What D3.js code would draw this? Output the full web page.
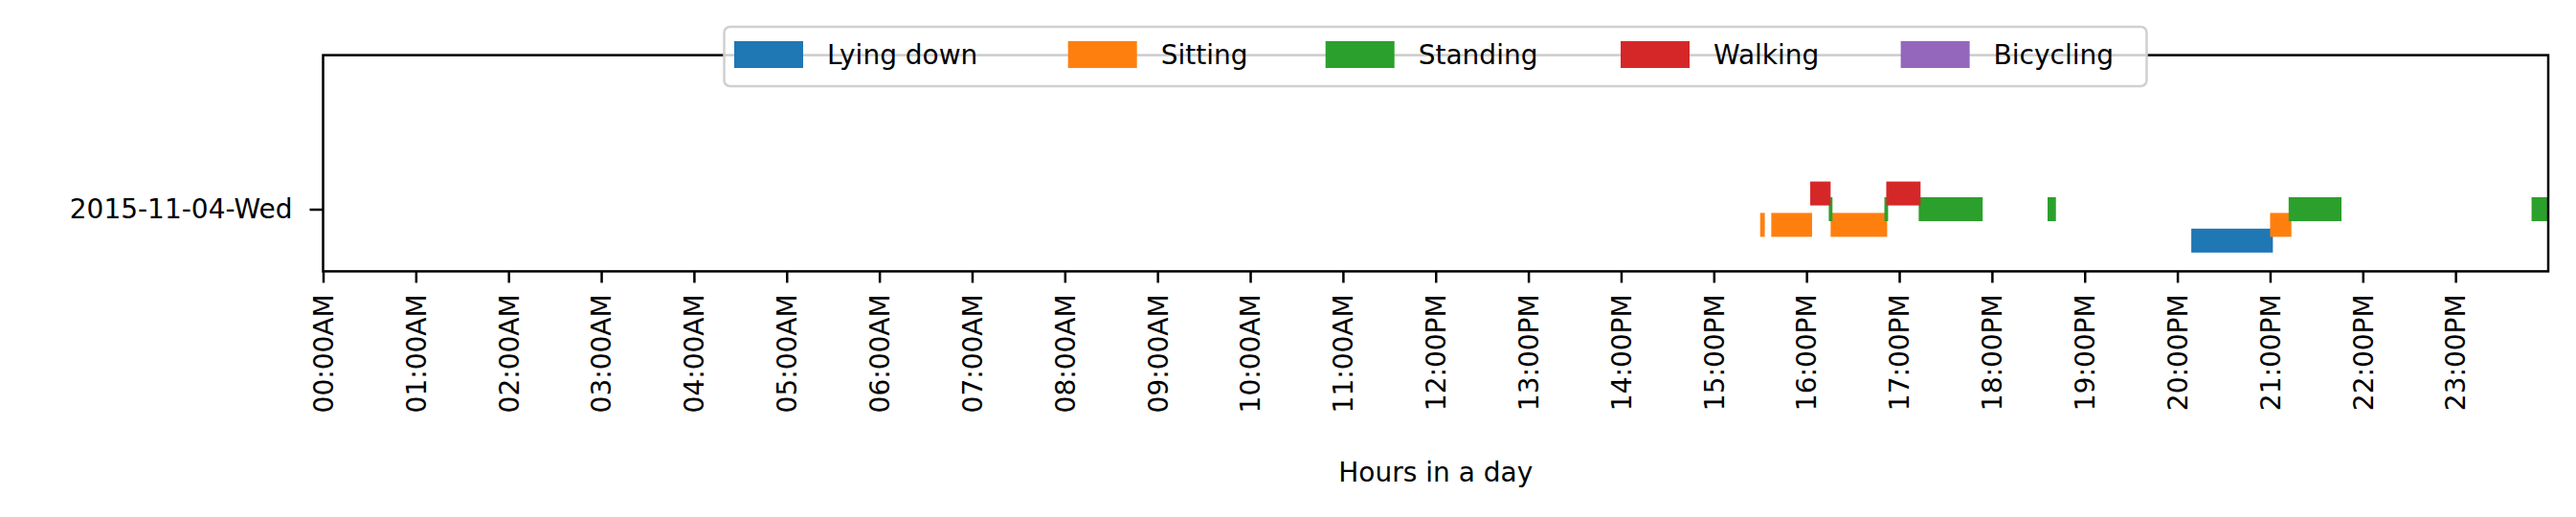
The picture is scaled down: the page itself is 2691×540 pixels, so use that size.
<!DOCTYPE html>
<html>
<head>
<meta charset="utf-8">
<script src="https://cdn.jsdelivr.net/npm/d3@7"></script>
<style>
body { margin: 0; background: #fff; }
text { font-family: "DejaVu Sans", sans-serif; }
</style>
</head>
<body>
<svg id="chart"></svg>
<script>
// data (hours of day)
var days = ["2015-11-04-Wed"];
var activities = ["Lying down", "Sitting", "Standing", "Walking", "Bicycling"];
var colors = ["#1f77b4", "#ff7f0e", "#2ca02c", "#d62728", "#9467bd"];
var laneOffset = [2, 1, 0, -1, -2];
var lyingDown = [[20.15, 21.03]];
var sitting = [[15.50, 15.55], [15.62, 16.06], [16.26, 16.87], [21.00, 21.23]];
var standing = [[16.24, 16.28], [16.84, 16.88], [17.21, 17.90], [18.60, 18.69], [21.20, 21.77], [23.82, 24.0]];
var walking = [[16.04, 16.26], [16.86, 17.23]];
var bicycling = [];
var segments = [lyingDown, sitting, standing, walking, bicycling];
var tickLabels = [];
for (var h = 0; h < 24; h++) {
  tickLabels.push((h < 10 ? "0" : "") + h + ":00" + (h < 12 ? "AM" : "PM"));
}

var width = 2691, height = 540;
var mLeft = 337.5, mRight = 2662, mTop = 57.6, mBottom = 283.4;

var svg = d3.select("#chart").attr("width", width).attr("height", height);

var x = d3.scaleLinear().domain([0, 24]).range([mLeft, mRight]);
var y = d3.scalePoint().domain(days).range([218.5, 218.5]);
var lane = d3.scaleLinear().domain([0, 1]).range([0, 16.4]);
var barH = 25;

var rows = [];
segments.forEach(function(segs, i) {
  segs.forEach(function(s) {
    rows.push({day: days[0], act: i, start: s[0], end: s[1]});
  });
});

svg.selectAll("rect.bar")
  .data(rows)
  .enter()
  .append("rect")
  .attr("class", "bar")
  .attr("x", function(d) { return x(d.start); })
  .attr("width", function(d) { return x(d.end) - x(d.start); })
  .attr("y", function(d) { return y(d.day) + lane(laneOffset[d.act]) - barH / 2; })
  .attr("height", barH)
  .attr("fill", function(d) { return colors[d.act]; });

// x axis
var xAxis = d3.axisBottom(x)
  .tickValues(d3.range(0, 24))
  .tickFormat(function(d) { return tickLabels[d]; })
  .tickSize(12).tickSizeOuter(0);
var gx = svg.append("g").attr("transform", "translate(0," + mBottom + ")").call(xAxis);
gx.select(".domain").remove();
gx.selectAll(".tick line").attr("stroke", "#000").attr("stroke-width", 2.5);
gx.selectAll(".tick text")
  .attr("font-size", 28)
  .attr("fill", "#000")
  .attr("transform", "rotate(-90)")
  .attr("x", -24).attr("y", 0).attr("dy", "0.35em")
  .attr("text-anchor", "end");

// y axis
var yAxis = d3.axisLeft(y).tickSize(14).tickSizeOuter(0);
var gy = svg.append("g").attr("transform", "translate(" + mLeft + ",0)").call(yAxis);
gy.select(".domain").remove();
gy.selectAll(".tick line").attr("stroke", "#000").attr("stroke-width", 2.5);
gy.selectAll(".tick text").attr("font-size", 28).attr("fill", "#000").attr("x", -32);

// frame
svg.append("rect")
  .attr("x", mLeft).attr("y", mTop)
  .attr("width", mRight - mLeft).attr("height", mBottom - mTop)
  .attr("fill", "none").attr("stroke", "#000").attr("stroke-width", 2.5);

svg.append("text")
  .text("Hours in a day")
  .attr("x", (mLeft + mRight) / 2).attr("y", 503)
  .attr("text-anchor", "middle").attr("font-size", 28);

// legend
var legX = [767, 1115.7, 1384.7, 1693, 1985.6];
svg.append("rect")
  .attr("x", 756.5).attr("y", 28).attr("width", 1486).attr("height", 62)
  .attr("rx", 6).attr("fill", "rgba(255,255,255,0.8)")
  .attr("stroke", "#d0d0d0").attr("stroke-width", 2.5);
var leg = svg.selectAll("g.leg")
  .data(activities)
  .enter()
  .append("g")
  .attr("class", "leg")
  .attr("transform", function(d, i) { return "translate(" + legX[i] + ",0)"; });
leg.append("rect")
  .attr("x", 0).attr("y", 43).attr("width", 72).attr("height", 28)
  .attr("fill", function(d, i) { return colors[i]; });
leg.append("text")
  .text(function(d) { return d; })
  .attr("x", 97).attr("y", 67).attr("font-size", 28);
</script>
</body>
</html>
